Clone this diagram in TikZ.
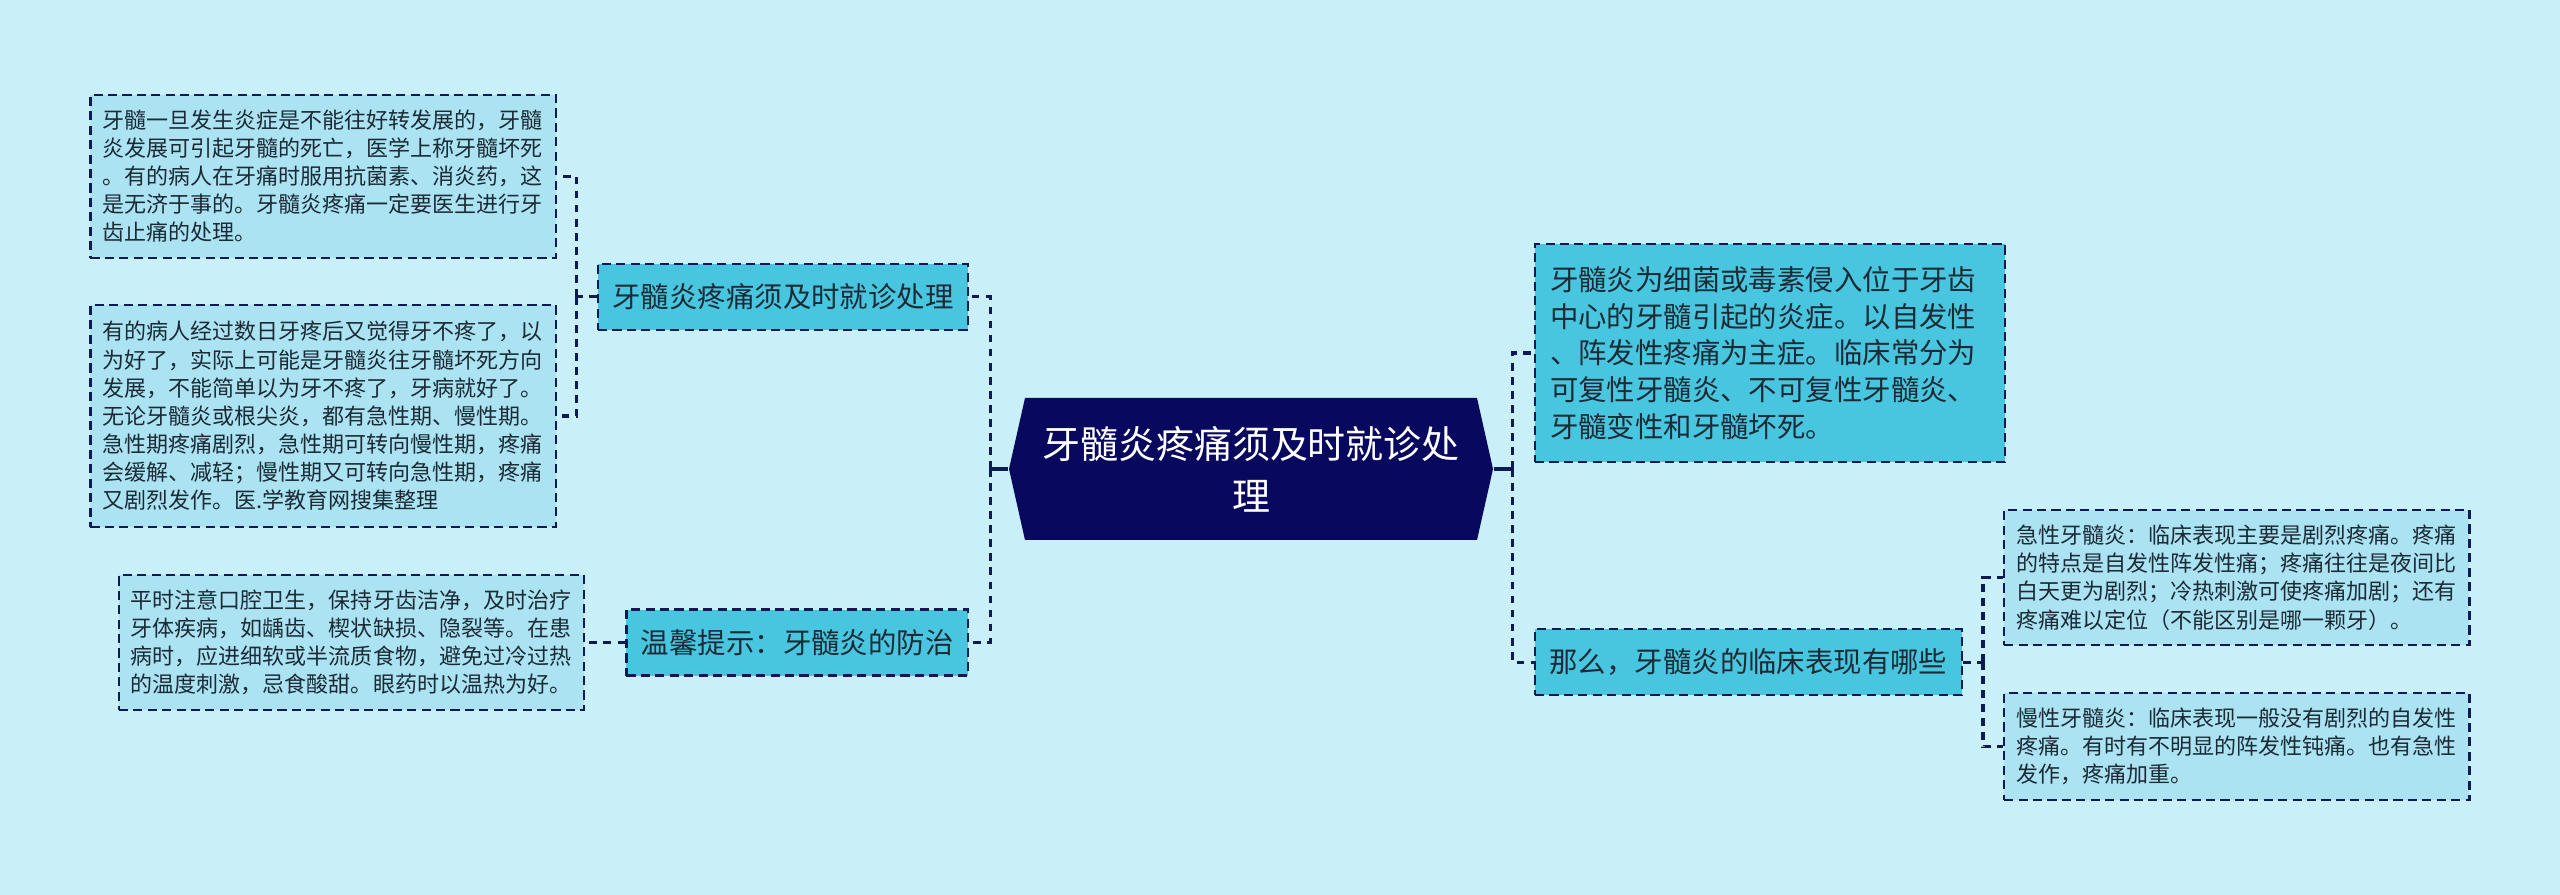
\documentclass[tikz,border=0pt]{standalone}
\usepackage{fontspec}
\setmainfont{Noto Sans CJK SC}
\usepackage{tikz}
\usetikzlibrary{positioning,calc}
\definecolor{toothbg}{HTML}{C9F0F8}
\definecolor{toothleaf}{HTML}{ABE3F2}
\definecolor{toothmid}{HTML}{48C6E0}
\definecolor{toothroot}{HTML}{08085E}
\definecolor{toothline}{HTML}{0E1A52}
\definecolor{toothtext}{HTML}{1B2A35}
\tikzset{
  hubbox/.style={rectangle, minimum width=4.84cm, minimum height=1.42cm, inner sep=0pt, align=center, text=white, font=\fontsize{10.8pt}{14.8pt}\selectfont},
  branchbox/.style={rectangle, draw=toothline, dash pattern=on 2.6pt off 1.5pt, line width=0.65pt, fill=toothmid, text=toothtext, inner xsep=0.145cm, inner ysep=0pt, minimum height=0.66cm, font=\fontsize{8.08pt}{10.44pt}\selectfont},
  leafbox/.style={rectangle, draw=toothline, dash pattern=on 2.6pt off 1.5pt, line width=0.65pt, fill=toothleaf, text=toothtext, text width=4.41cm, align=left, inner xsep=0.12cm, inner ysep=0pt, font=\fontsize{6.26pt}{8pt}\selectfont},
  link/.style={draw=toothline, line width=0.9pt, dash pattern=on 2.2pt off 1.8pt},
  hublink/.style={draw=toothline, line width=0.9pt},
}
\begin{document}
\begin{tikzpicture}[x=0.01cm, y=-0.01cm]
  \path[use as bounding box, fill=toothbg] (0,0) rectangle (2560,895);
  % central topic
  \coordinate (hub) at (1251,469);
  \fill[toothroot] ($(hub)+(-242,0)$) -- ($(hub)+(-226,-71)$) -- ($(hub)+(226,-71)$) -- ($(hub)+(242,0)$) -- ($(hub)+(226,71)$) -- ($(hub)+(-226,71)$) -- cycle;
  \node[hubbox] (main) at (hub) {牙髓炎疼痛须及时就诊处\\理};
  % left side
  \node[branchbox, left=0.39cm of main, yshift=1.72cm] (treat) {牙髓炎疼痛须及时就诊处理};
  \node[branchbox, left=0.39cm of main, yshift=-1.735cm] (tips) {温馨提示：牙髓炎的防治};
  \node[leafbox, minimum height=1.63cm, left=0.4cm of treat, yshift=1.205cm] (early) {牙髓一旦发生炎症是不能往好转发展的，牙髓\\炎发展可引起牙髓的死亡，医学上称牙髓坏死\\。有的病人在牙痛时服用抗菌素、消炎药，这\\是无济于事的。牙髓炎疼痛一定要医生进行牙\\齿止痛的处理。};
  \node[leafbox, minimum height=2.22cm, left=0.4cm of treat, yshift=-1.19cm] (relapse) {有的病人经过数日牙疼后又觉得牙不疼了，以\\为好了，实际上可能是牙髓炎往牙髓坏死方向\\发展，不能简单以为牙不疼了，牙病就好了。\\无论牙髓炎或根尖炎，都有急性期、慢性期。\\急性期疼痛剧烈，急性期可转向慢性期，疼痛\\会缓解、减轻；慢性期又可转向急性期，疼痛\\又剧烈发作。医.学教育网搜集整理};
  \node[leafbox, minimum height=1.35cm, left=0.4cm of tips] (care) {平时注意口腔卫生，保持牙齿洁净，及时治疗\\牙体疾病，如龋齿、楔状缺损、隐裂等。在患\\病时，应进细软或半流质食物，避免过冷过热\\的温度刺激，忌食酸甜。眼药时以温热为好。};
  % right side
  \node[branchbox, text width=4.4cm, align=left, inner xsep=0.15cm, minimum height=2.18cm, right=0.4cm of main, yshift=1.16cm] (defn) {牙髓炎为细菌或毒素侵入位于牙齿\\中心的牙髓引起的炎症。以自发性\\、阵发性疼痛为主症。临床常分为\\可复性牙髓炎、不可复性牙髓炎、\\牙髓变性和牙髓坏死。};
  \node[branchbox, right=0.4cm of main, yshift=-1.93cm] (signs) {那么，牙髓炎的临床表现有哪些};
  \node[leafbox, minimum height=1.35cm, right=0.4cm of signs, yshift=0.845cm] (acute) {急性牙髓炎：临床表现主要是剧烈疼痛。疼痛\\的特点是自发性阵发性痛；疼痛往往是夜间比\\白天更为剧烈；冷热刺激可使疼痛加剧；还有\\疼痛难以定位（不能区别是哪一颗牙）。};
  \node[leafbox, minimum height=1.07cm, right=0.4cm of signs, yshift=-0.845cm] (chronic) {慢性牙髓炎：临床表现一般没有剧烈的自发性\\疼痛。有时有不明显的阵发性钝痛。也有急性\\发作，疼痛加重。};
  % connectors
  \coordinate (jleft) at ($(main.west)+(-18,0)$);
  \coordinate (jright) at ($(main.east)+(19,0)$);
  \coordinate (jtreat) at ($(treat.west)+(-20,0)$);
  \coordinate (jsigns) at ($(signs.east)+(20,0)$);
  \draw[hublink] (main.west) -- (jleft);
  \draw[link] (jleft) |- (treat.east);
  \draw[link] (jleft) |- (tips.east);
  \draw[link] (treat.west) -- (jtreat);
  \draw[link] (jtreat) |- (early.east);
  \draw[link] (jtreat) |- (relapse.east);
  \draw[link] (tips.west) -- (care.east);
  \draw[hublink] (main.east) -- (jright);
  \draw[link] (jright) |- (defn.west);
  \draw[link] (jright) |- (signs.west);
  \draw[link] (signs.east) -- (jsigns);
  \draw[link] (jsigns) |- (acute.west);
  \draw[link] (jsigns) |- (chronic.west);
\end{tikzpicture}
\end{document}
